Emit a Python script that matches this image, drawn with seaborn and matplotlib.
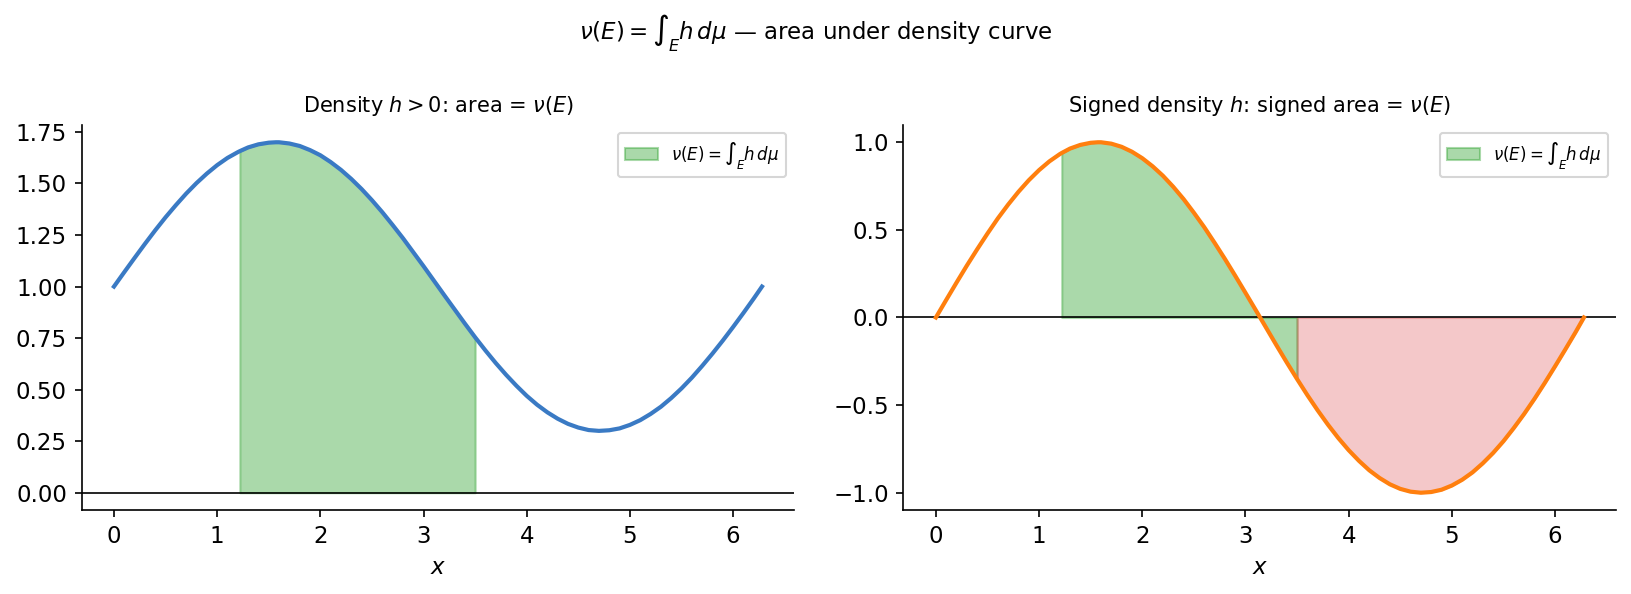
import matplotlib
matplotlib.use("Agg")
import pandas as pd
import matplotlib.pyplot as plt
import seaborn as sns

# sample points
x_vals = [0.0, 0.1, 0.2, 0.3, 0.4, 0.5, 0.6, 0.7, 0.8, 0.9,
          1.0, 1.1, 1.2, 1.22, 1.3, 1.4, 1.5, 1.57, 1.6, 1.7,
          1.8, 1.9, 2.0, 2.1, 2.2, 2.3, 2.4, 2.5, 2.6, 2.7,
          2.8, 2.9, 3.0, 3.1, 3.14, 3.2, 3.3, 3.4, 3.5, 3.6,
          3.7, 3.8, 3.9, 4.0, 4.1, 4.2, 4.3, 4.4, 4.5, 4.6,
          4.7, 4.8, 4.9, 5.0, 5.1, 5.2, 5.3, 5.4, 5.5, 5.6,
          5.7, 5.8, 5.9, 6.0, 6.1, 6.2, 6.28]
h_pos = [1.000, 1.070, 1.139, 1.207, 1.273, 1.336, 1.395, 1.451, 1.502, 1.548,
         1.589, 1.624, 1.652, 1.657, 1.675, 1.690, 1.698, 1.700, 1.700, 1.694,
         1.682, 1.662, 1.637, 1.604, 1.566, 1.522, 1.473, 1.419, 1.361, 1.299,
         1.235, 1.167, 1.099, 1.029, 1.001, 0.959, 0.890, 0.821, 0.754, 0.690,
         0.629, 0.572, 0.519, 0.470, 0.427, 0.390, 0.359, 0.334, 0.316, 0.304,
         0.300, 0.303, 0.312, 0.329, 0.352, 0.382, 0.417, 0.459, 0.506, 0.558,
         0.615, 0.675, 0.738, 0.804, 0.872, 0.942, 1.000]
h_signed = [0.000, 0.100, 0.199, 0.296, 0.389, 0.479, 0.565, 0.644, 0.717, 0.783,
            0.841, 0.891, 0.932, 0.939, 0.964, 0.985, 0.997, 1.000, 1.000, 0.992,
            0.974, 0.946, 0.909, 0.863, 0.809, 0.746, 0.676, 0.598, 0.516, 0.427,
            0.335, 0.239, 0.141, 0.042, 0.002, -0.058, -0.158, -0.256, -0.351, -0.443,
            -0.530, -0.612, -0.688, -0.757, -0.818, -0.872, -0.916, -0.952, -0.978, -0.994,
            -1.000, -0.996, -0.983, -0.959, -0.926, -0.884, -0.832, -0.773, -0.706, -0.631,
            -0.551, -0.465, -0.374, -0.279, -0.182, -0.083, 0.000]
E_bounds = [1.22, 3.5]

df = pd.DataFrame({"x": x_vals, "h_pos": h_pos, "h_signed": h_signed})
x = df["x"].values
in_E = (x >= E_bounds[0]) & (x <= E_bounds[1])
after_E = x >= E_bounds[1]

fig, axes = plt.subplots(1, 2, figsize=(1631 / 150, 594 / 150), dpi=150)
fig.subplots_adjust(left=0.050, right=0.991, top=0.790, bottom=0.141, wspace=0.153)

label = r"$\nu(E) = \int_E h\, d\mu$"

# left: positive density
ax = axes[0]
sns.lineplot(data=df, x="x", y="h_pos", ax=ax, color="#3a7ac4", lw=2, zorder=3)
ax.fill_between(x, 0, df["h_pos"], where=in_E, color="tab:green", alpha=0.4, label=label)
ax.axhline(0, color="black", lw=0.8)
ax.set_title(r"Density $h > 0$: area = $\nu(E)$", fontsize=10)
ax.set_xlabel(r"$x$", fontsize=11)
ax.set_ylabel("")
ax.tick_params(labelsize=11)
ax.legend(fontsize=8, loc="upper right")

# right: signed density
ax = axes[1]
sns.lineplot(data=df, x="x", y="h_signed", ax=ax, color="#ff7f0e", lw=2, zorder=3)
ax.fill_between(x, 0, df["h_signed"], where=in_E, color="tab:green", alpha=0.4, label=label)
ax.fill_between(x, 0, df["h_signed"], where=after_E, color="tab:red", alpha=0.25)
ax.axhline(0, color="black", lw=0.8)
ax.set_title(r"Signed density $h$: signed area = $\nu(E)$", fontsize=10)
ax.set_xlabel(r"$x$", fontsize=11)
ax.set_ylabel("")
ax.tick_params(labelsize=11)
ax.legend(fontsize=8, loc="upper right")

sns.despine(fig=fig)
fig.suptitle(r"$\nu(E) = \int_E h\, d\mu$ — area under density curve", fontsize=11, y=0.943, va="center")
fig.savefig("out.png", dpi=150)
